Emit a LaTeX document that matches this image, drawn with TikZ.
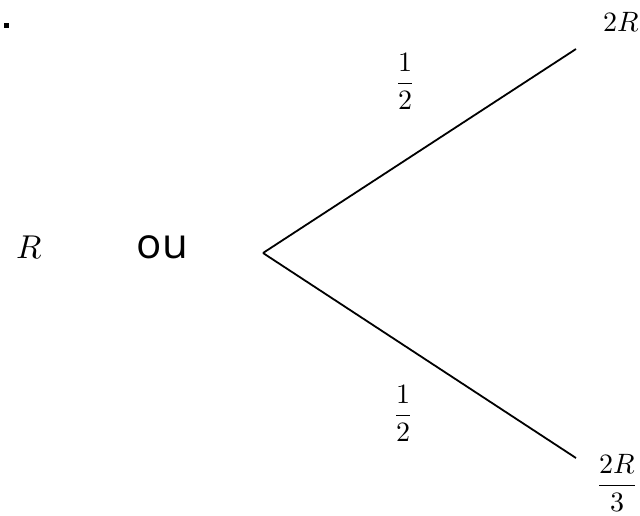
\documentclass[tikz,border=0pt]{standalone}
\usepackage{fontspec}
\usepackage{unicode-math}
\setmathfont{Latin Modern Math}
\newfontfamily\oufont{Open Sans}
\begin{document}
\begin{tikzpicture}[x=1pt,y=-1pt,
  mathlbl/.style={inner sep=0pt,font=\fontsize{28}{34}\selectfont},
  branch/.style={line width=1.8pt}]
\useasboundingbox (0,0) rectangle (640,515);
\node[fill=black,inner sep=0pt,minimum size=5pt] (dot) at (6.5,25.5) {};
\node[inner sep=0pt,anchor=base,font=\fontsize{33}{40}\selectfont] (R) at (29.5,258) {$R$};
\node[inner sep=0pt,anchor=base,font=\oufont\fontsize{42}{50}\selectfont] (ou) at (162.5,258) {ou};
\coordinate (apex) at (263,253);
\coordinate (up) at (576,49);
\coordinate (down) at (576,458);
\draw[branch] (apex) -- (up);
\draw[branch] (apex) -- (down);
\node[mathlbl,anchor=base] (top) at (621,31) {$2R$};
\node[mathlbl] (pu) at (405,81) {$\displaystyle\frac{1}{2}$};
\node[mathlbl] (pd) at (403,413) {$\displaystyle\frac{1}{2}$};
\node[mathlbl] (bot) at (617,483) {$\displaystyle\frac{2R}{3}$};
\end{tikzpicture}
\end{document}
